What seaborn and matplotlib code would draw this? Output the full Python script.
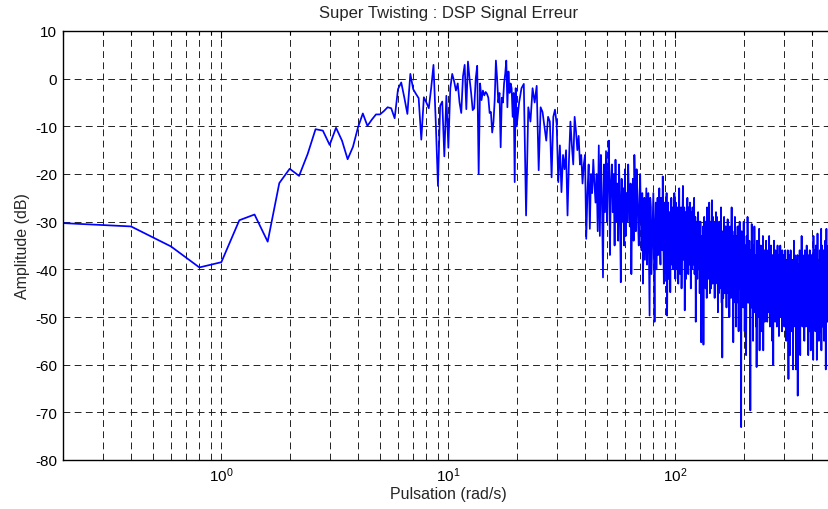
import numpy as np
import pandas as pd
import matplotlib
matplotlib.use("Agg")
import matplotlib.pyplot as plt
import seaborn as sns
from matplotlib.ticker import FixedLocator, NullFormatter

# Frequency grids (rad/s)
freq_low = np.round(np.arange(1, 101) * 0.2, 1)      # 0.2 .. 20.0
freq_mid = np.arange(41, 121) * 0.5                   # 20.5 .. 60.0
freq_high = np.arange(61, 481).astype(float)          # 61 .. 480
freq_half = np.arange(60.5, 300.0, 1.0)               # 60.5 .. 299.5

# Power spectral density of the error signal (dB)
amp_low = [
    -30.3, -31.0, -35.2, -39.6, -38.5, -29.7, -28.5, -34.2, -21.9, -18.9,
    -20.4, -15.8, -10.6, -10.9, -13.9, -10.3, -13.0, -16.9, -14.3, -10.2,
    -7.3, -9.9, -8.6, -7.5, -7.5, -6.8, -6.0, -6.2, -8.3, -2.2,
    -0.8, -4.0, -7.4, 1.0, -2.2, -3.2, -4.1, -12.8, -3.9, -5.0,
    -6.2, -2.0, 2.9, -9.0, -22.5, -5.7, -4.8, -16.3, -3.6, -14.5,
    -2.0, 1.0, -0.5, -2.5, -1.0, -5.0, -7.2, 0.5, 2.9, -6.4,
    3.6, 0.0, -3.0, -6.6, -6.2, 0.0, 2.7, -20.0, -1.0, -4.5,
    -2.5, -3.5, -2.8, -3.2, -4.0, -7.2, -7.0, -11.3, -9.2, -4.5,
    3.8, 0.0, -5.0, -3.0, -14.4, -4.0, -5.0, -1.0, 1.0, 3.8,
    -6.0, 1.5, -3.0, -1.0, -2.0, -8.0, -3.0, -21.7, -2.0, -10.0,
]

amp_mid = [
    -5.0, -2.0, -1.1, -28.7, -6.0, -9.0, -2.0, -5.0, -1.5, -19.2,
    -6.0, -7.0, -10.0, -13.0, -8.0, -9.0, -20.7, -8.0, -6.5, -9.5,
    -21.7, -14.0, -23.8, -16.0, -19.0, -15.0, -28.7, -17.0, -9.0, -14.0,
    -18.0, -8.0, -11.0, -15.0, -12.0, -18.0, -16.0, -22.0, -18.0, -16.0,
    -33.6, -24.0, -18.0, -31.5, -20.0, -24.0, -17.0, -22.0, -26.0, -20.0,
    -32.0, -14.0, -33.0, -16.0, -25.0, -41.7, -18.0, -28.0, -15.2, -30.0,
    -20.0, -13.0, -37.0, -22.0, -18.0, -28.0, -20.0, -35.0, -17.0, -30.0,
    -22.0, -34.0, -18.0, -26.0, -42.7, -21.0, -30.0, -23.0, -35.0, -19.0,
]

amp_high = [
    -24, -18, -31, -41, -21, -16, -32, -24, -35, -20,
    -36, -43, -25, -31, -39, -24, -49.7, -27, -35, -24,
    -51, -26, -33, -37, -23, -39, -28, -20.5, -43, -30,
    -34, -49.7, -26, -37, -44.8, -25, -33, -40, -24, -42,
    -29, -36, -43, -23, -41, -27, -35, -22.5, -38, -48.6,
    -28, -37, -25, -41, -31, -26, -44, -33, -27, -39,
    -25, -36, -51, -30, -42, -28, -37, -45, -30, -55.3,
    -33, -40, -55.8, -29, -38, -44, -31, -27, -41, -35,
    -26, -45, -32, -39, -25.5, -43, -34, -30, -46, -36,
    -28, -41, -33, -49, -37, -30, -44, -35, -27, -47,
    -58.5, -32, -42, -29, -45, -37, -31, -48, -36, -29.5,
    -43, -35, -50, -31, -40, -46, -27, -38, -44, -55.3,
    -33, -41, -29, -47, -52, -34, -39, -31, -45, -53,
    -36, -30, -43, -38, -73.1, -32, -44, -37, -48, -30,
    -41, -53, -35, -46, -58, -33, -42, -29, -47, -38,
    -44, -34, -50, -69.6, -36, -43, -30.5, -48, -39, -55,
    -35, -45, -31, -49, -41, -37, -52, -60.5, -34, -44,
    -50, -36, -43, -31.5, -57, -40, -46, -35, -49, -53,
    -38, -44, -33, -57, -42, -48, -36, -51, -40, -45,
    -34, -47, -39, -51, -43, -36, -49, -41, -33, -46,
    -52, -38, -44, -35, -48, -42, -55, -37, -45, -60,
    -40, -34, -47, -43, -51, -36, -45, -49, -38, -52,
    -42, -35, -48, -44, -39, -54, -37, -46, -41, -35,
    -50, -43, -38, -47, -53, -36, -45, -40, -49, -37,
    -44, -52, -39, -46, -36, -48, -42, -55, -38, -45,
    -41, -50, -36, -47, -63, -39, -44, -51, -37, -58,
    -43, -36, -49, -45, -40, -53, -38, -47, -42, -61,
    -39, -46, -34, -50, -44, -37, -52, -41, -48, -61,
    -38, -45, -51, -40, -37, -66.5, -43, -49, -39, -46,
    -54, -41, -36, -48, -58, -42, -47, -38, -51, -33,
    -45, -40, -52, -37, -47, -43, -50, -39, -46, -55,
    -41, -36, -49, -44, -38, -52, -42, -47, -35, -45,
    -50, -40, -46, -37, -58, -43, -48, -39, -53, -41,
    -36, -47, -44, -51, -57, -40, -46, -37, -49, -43,
    -38, -52, -45, -41, -59, -33, -47, -42, -50, -36,
    -44, -49, -39, -53, -42, -35, -48, -45, -40, -59,
    -37, -46, -32.5, -51, -43, -39, -48, -41, -55, -38,
    -45, -50, -36, -47, -42, -53, -39, -44, -31.5, -57,
    -40, -48, -35, -46, -52, -38, -44, -49, -36, -47,
    -42, -55, -37, -45, -40, -50, -34, -47, -43, -61,
    -39, -46, -31.5, -51, -44, -38, -48, -42, -36, -51,
    -41, -47, -35, -44, -39, -48, -33, -45, -42, -40,
]

amp_half = [
    -33, -30, -26, -22, -28, -34, -23, -19, -30, -25,
    -29, -24, -33, -38, -23, -30, -36, -25, -41, -28,
    -38, -31, -40, -25, -29, -34, -25, -36, -32, -26,
    -41, -24, -35, -42, -28, -32, -39, -27, -31, -36,
    -26, -40, -27, -33, -35, -30, -44, -29, -34, -27,
    -33, -42, -30, -36, -27, -39, -35, -28, -40, -32,
    -31, -41, -29, -37, -34, -32, -40, -30, -36, -42,
    -37, -45, -31, -36, -43, -30, -35, -46, -34, -29,
    -42, -36, -30, -44, -33, -38, -29, -41, -37, -31,
    -43, -35, -29, -38, -32, -45, -36, -31, -42, -38,
    -33, -40, -46, -35, -39, -31, -44, -40, -33, -45,
    -38, -32, -44, -37, -45, -33, -38, -43, -32, -37,
    -40, -46, -35, -38, -33, -42, -47, -35, -41, -36,
    -31, -44, -38, -33, -46, -40, -37, -33, -42, -39,
    -44, -37, -46, -40, -35, -49, -39, -45, -36, -42,
    -38, -47, -41, -36, -45, -39, -48, -37, -43, -40,
    -46, -39, -42, -36, -47, -44, -38, -41, -49, -37,
    -41, -46, -38, -44, -40, -48, -36, -43, -39, -45,
    -47, -40, -45, -38, -43, -37, -46, -41, -44, -39,
    -42, -38, -46, -40, -37, -45, -41, -47, -39, -43,
    -40, -45, -37, -43, -41, -48, -39, -44, -38, -46,
    -44, -39, -42, -46, -38, -43, -40, -37, -45, -41,
    -38, -46, -41, -39, -47, -42, -44, -37, -45, -40,
    -43, -39, -45, -41, -38, -44, -40, -47, -37, -42,
]

df = pd.DataFrame({
    "w": np.concatenate([freq_low, freq_mid, freq_high, freq_half]),
    "dB": np.concatenate([amp_low, amp_mid, amp_high, amp_half]).astype(float),
}).sort_values("w", kind="stable")

sns.set_style("white")
plt.rcParams["font.family"] = ["Liberation Sans", "DejaVu Sans"]
plt.rcParams["mathtext.fontset"] = "custom"
plt.rcParams["mathtext.rm"] = "Liberation Sans"
plt.rcParams["mathtext.it"] = "Liberation Sans"
plt.rcParams["axes.unicode_minus"] = False

fig = plt.figure(figsize=(8.29, 5.10), dpi=100)
ax = fig.add_axes([62.7 / 829, 49 / 510, (834 - 62.7) / 829, 429 / 510])

sns.lineplot(data=df, x="w", y="dB", estimator=None, sort=False,
             color="#0000ff", linewidth=1.25, ax=ax)

ax.set_xscale("log")
ax.set_xlim(0.2, 500)
ax.set_ylim(-80, 10)
ax.set_yticks(np.arange(-80, 11, 10))

major = [1, 10, 100]
minor = [m * d for d in (0.1, 1, 10, 100) for m in range(2, 10) if 0.2 <= m * d <= 500]
ax.xaxis.set_major_locator(FixedLocator(major))
ax.xaxis.set_minor_locator(FixedLocator(minor))
ax.xaxis.set_minor_formatter(NullFormatter())
ax.set_xticklabels([r"$10^{0}$", r"$10^{1}$", r"$10^{2}$"])

dash = (0, (7, 4.5))
ax.grid(True, which="major", axis="both", color="#222222", linestyle=dash, linewidth=0.7)
ax.grid(True, which="minor", axis="x", color="#222222", linestyle=dash, linewidth=0.7)
ax.set_axisbelow(True)

for s in ax.spines.values():
    s.set_color("black")
    s.set_linewidth(1.0)

ax.tick_params(axis="both", which="both", direction="in", top=True, right=True,
               colors="black", labelsize=11, width=0.8)
ax.tick_params(axis="both", which="major", length=5, pad=4)
ax.tick_params(axis="x", which="minor", length=3)

ax.set_title("Super Twisting : DSP Signal Erreur", fontsize=12, pad=10)
ax.set_xlabel("Pulsation (rad/s)", fontsize=11.5, labelpad=1)
ax.set_ylabel("Amplitude (dB)", fontsize=11.5, labelpad=4)

fig.savefig("out.png", dpi=100)
